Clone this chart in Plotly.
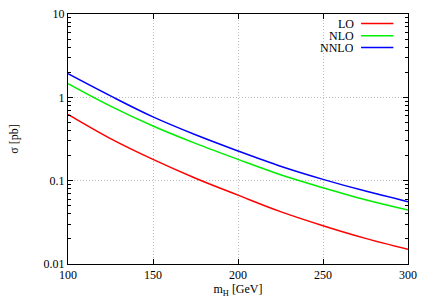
import plotly.graph_objects as go

mh = [100, 125, 150, 175, 200, 225, 250, 275, 300]
lo = [0.625, 0.32, 0.18, 0.107, 0.067, 0.0425, 0.0288, 0.0203, 0.015]
nlo = [1.46, 0.785, 0.453, 0.28, 0.18, 0.118, 0.0824, 0.059, 0.0444]
nnlo = [1.92, 1.04, 0.582, 0.355, 0.227, 0.149, 0.1037, 0.075, 0.056]
names = ["LO", "NLO", "NNLO"]
colors = ["#ff0000", "#00ee00", "#0000ff"]
xticks = [100, 150, 200, 250, 300]
yticks = [0.01, 0.1, 1, 10]
yticklabels = ["0.01", "0.1", "1", "10"]

FONT = "Liberation Serif"
fig = go.Figure()
for name, ys, c in zip(names, [lo, nlo, nnlo], colors):
    fig.add_trace(go.Scatter(x=mh, y=ys, mode="lines", name=name,
                             line=dict(color=c, width=1.5, shape="spline"),
                             showlegend=False))

# gnuplot-style key: text right-aligned, sample line on its right
key_y = [0.962, 0.913, 0.866]
for name, c, ky in zip(names, colors, key_y):
    fig.add_annotation(xref="paper", yref="paper", x=0.843, y=ky, text=name,
                       showarrow=False, xanchor="right", yanchor="middle",
                       height=11, borderpad=0,
                       font=dict(family=FONT, size=12, color="black"))
    fig.add_shape(type="line", xref="paper", yref="paper", x0=0.862, x1=0.957,
                  y0=ky, y1=ky, line=dict(color=c, width=1.5))

axis_common = dict(showline=True, linecolor="black", linewidth=1, mirror="allticks",
                   ticks="inside", tickcolor="black", showgrid=True, automargin=False,
                   gridcolor="#bdbdbd", griddash="1px,2px", gridwidth=1, zeroline=False,
                   tickfont=dict(family=FONT, size=12, color="black"))

fig.update_xaxes(range=[100, 300], tickvals=xticks, ticklen=5,
                 title=dict(text="m<sub>H</sub> [GeV]", font=dict(family=FONT, size=12, color="black"),
                            standoff=2),
                 **axis_common)
fig.update_yaxes(type="log", range=[-2, 1], tickvals=yticks, ticktext=yticklabels, ticklen=5,
                 minor=dict(ticks="inside", ticklen=3, tickcolor="black", dtick="D1", showgrid=False),
                 title=dict(text="σ [pb]", font=dict(family=FONT, size=12, color="black"), standoff=22),
                 **axis_common)

fig.update_layout(width=428, height=300, margin=dict(l=68, r=20, t=14, b=36),
                  plot_bgcolor="white", paper_bgcolor="white",
                  font=dict(family=FONT, size=12, color="black"))
fig.write_html("out.html", config={"displayModeBar": False},
               post_script="document.body.style.margin='0';document.body.style.overflow='hidden';")
